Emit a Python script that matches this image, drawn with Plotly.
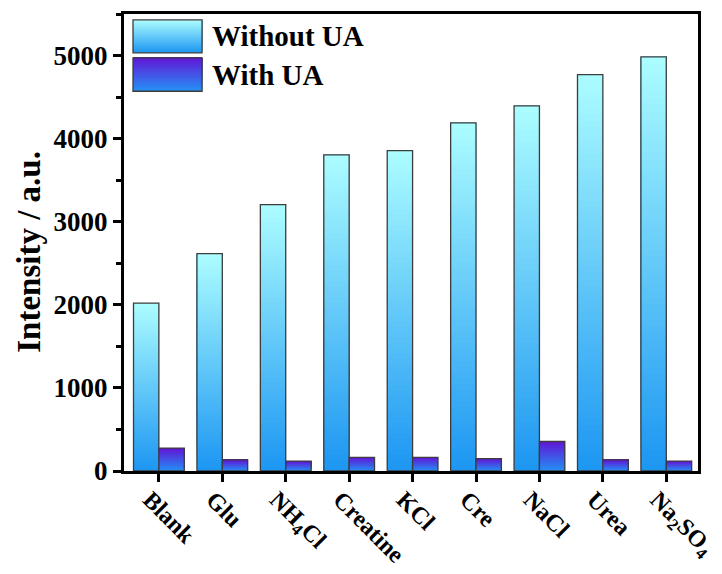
import plotly.graph_objects as go

# Interferent screening data
categories = ["Blank", "Glu", "NH<sub>4</sub>Cl", "Creatine", "KCl", "Cre", "NaCl", "Urea",
              "Na<sub>2</sub>SO<sub>4</sub>"]
without_ua = [2020, 2615, 3205, 3805, 3855, 4190, 4395, 4770, 4985]
with_ua = [275, 135, 120, 165, 165, 150, 355, 135, 120]

FONT = "Liberation Serif"
N_STEPS = 60
BAR_W = 0.4

# gradient end colours (top, bottom) for each series
grad_without = ((172, 253, 255), (28, 150, 242))
grad_with = ((98, 22, 214), (36, 146, 246))


def mix(c_top, c_bot, t):
    """t = 0 at bottom, 1 at top"""
    return "rgb(%d,%d,%d)" % tuple(round(b + (a - b) * t) for a, b in zip(c_top, c_bot))


fig = go.Figure()
xs = list(range(len(categories)))


def add_gradient_bars(values, grad, offset):
    # each slice runs from its own base up to the bar top; later slices paint over earlier ones
    for k in range(N_STEPS):
        frac = k / N_STEPS
        fig.add_trace(go.Bar(
            x=xs, y=[v * (1 - frac) for v in values], base=[v * frac for v in values],
            width=BAR_W, offset=offset,
            marker=dict(color=mix(grad[0], grad[1], (k + 0.5) / N_STEPS), line=dict(width=0)),
            showlegend=False, hoverinfo="skip"))
    fig.add_trace(go.Bar(
        x=xs, y=values, width=BAR_W, offset=offset,
        marker=dict(color="rgba(0,0,0,0)", line=dict(color="#3c3c3c", width=1.3)),
        showlegend=False, hoverinfo="skip"))


add_gradient_bars(without_ua, grad_without, -BAR_W)
add_gradient_bars(with_ua, grad_with, 0)

# legend: gradient swatches and labels
shapes = []
annotations = []
legend_rows = [("Without UA", grad_without, 0.987, 0.915), ("With UA", grad_with, 0.904, 0.831)]
x0, x1 = 0.0157, 0.136
n_leg = 30
for label, grad, ytop, ybot in legend_rows:
    h = (ytop - ybot) / n_leg
    for k in range(n_leg):
        shapes.append(dict(type="rect", xref="paper", yref="paper",
                           x0=x0, x1=x1, y0=ybot + k * h, y1=ytop,
                           fillcolor=mix(grad[0], grad[1], (k + 0.5) / n_leg),
                           line=dict(width=0), layer="above"))
    shapes.append(dict(type="rect", xref="paper", yref="paper", x0=x0, x1=x1, y0=ybot, y1=ytop,
                       fillcolor="rgba(0,0,0,0)", line=dict(color="#3c3c3c", width=1.3),
                       layer="above"))
    annotations.append(dict(text="<b>%s</b>" % label, xref="paper", yref="paper",
                            x=0.15, y=(ytop + ybot) / 2, xanchor="left", yanchor="middle",
                            showarrow=False, font=dict(family=FONT, size=29, color="black")))

annotations.append(dict(text="<b>Intensity / a.u.</b>", xref="paper", yref="paper",
                        x=-0.167, y=0.48, textangle=-90, xanchor="center", yanchor="middle",
                        showarrow=False, font=dict(family=FONT, size=33, color="black")))

fig.update_layout(
    width=722, height=574,
    margin=dict(l=124, r=24, t=14, b=103),
    paper_bgcolor="white", plot_bgcolor="white",
    barmode="overlay",
    shapes=shapes, annotations=annotations,
    font=dict(family=FONT, color="black"),
)
fig.update_xaxes(
    range=[-0.55, 8.5], tickvals=xs, ticktext=["<b>%s</b>" % c for c in categories],
    tickangle=45, tickfont=dict(family=FONT, size=24, color="black"),
    ticklabeloverflow="allow", ticklabelstandoff=-6, ticklabelshift=-9,
    showline=True, linecolor="black", linewidth=3, mirror=True,
    ticks="outside", ticklen=8, tickwidth=3, tickcolor="black",
    showgrid=False, zeroline=False, automargin=False,
)
fig.update_yaxes(
    range=[0, 5500], tickvals=[0, 1000, 2000, 3000, 4000, 5000],
    ticktext=["<b>%d</b>" % v for v in [0, 1000, 2000, 3000, 4000, 5000]],
    tickfont=dict(family=FONT, size=27, color="black"),
    showline=True, linecolor="black", linewidth=3, mirror=True,
    ticks="outside", ticklen=8, tickwidth=3, tickcolor="black",
    minor=dict(ticks="outside", ticklen=5, tickwidth=3, tickcolor="black", dtick=500, tick0=0),
    showgrid=False, zeroline=False, automargin=False,
)

fig.write_html("out.html")
